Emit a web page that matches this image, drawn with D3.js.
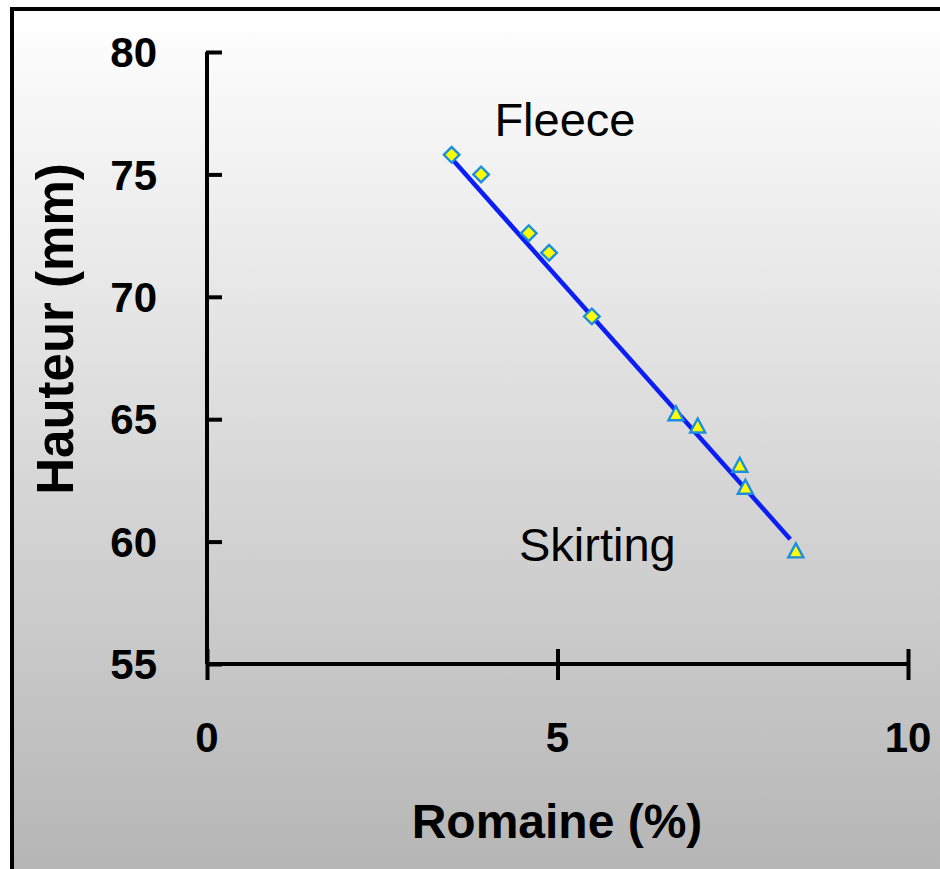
<!DOCTYPE html>
<html><head><meta charset="utf-8">
<script src="https://cdn.jsdelivr.net/npm/d3@7"></script>
<style>html,body{margin:0;padding:0;background:#fff;}svg{display:block;}</style>
</head><body>
<script>
const fleeceX = [3.49, 3.91, 4.59, 4.88, 5.49];
const fleeceY = [75.8, 75.0, 72.6, 71.8, 69.2];
const skirtingX = [6.69, 7.00, 7.60, 7.68, 8.40];
const skirtingY = [65.2, 64.7, 63.1, 62.2, 59.6];
const trendX = [3.41, 8.32];
const trendY = [75.9, 60.1];
const xTicks = [0, 5, 10];
const yTicks = [55, 60, 65, 70, 75, 80];
const labels = [{text: "Fleece", x: 4.1, y: 76.55}, {text: "Skirting", x: 4.45, y: 59.2}];

const W = 940, H = 869;
const svg = d3.select("body").append("svg").attr("width", W).attr("height", H);
const defs = svg.append("defs");
const grad = defs.append("linearGradient").attr("id", "bg").attr("x1", 0).attr("y1", 0).attr("x2", 0).attr("y2", 1);
grad.append("stop").attr("offset", "0%").attr("stop-color", "#ffffff");
grad.append("stop").attr("offset", "100%").attr("stop-color", "#b4b4b4");
svg.append("rect").attr("x", 12).attr("y", 9).attr("width", W + 10).attr("height", H + 10)
  .attr("fill", "url(#bg)").attr("stroke", "#000").attr("stroke-width", 4);

const x = d3.scaleLinear().domain([0, 10]).range([207, 908]);
const y = d3.scaleLinear().domain([55, 80]).range([664, 52]);

// y axis (ticks inside)
const yAx = svg.append("g").attr("transform", `translate(${x(0)},0)`)
  .call(d3.axisRight(y).tickValues(yTicks).tickSize(15).tickFormat(""));
yAx.select(".domain").attr("d", `M0,${y(80)}V${y(55)}`);
yAx.selectAll("line,path").attr("stroke", "#000").attr("stroke-width", 4);
yAx.selectAll(".tick line").attr("x1", -1);
svg.append("g").selectAll("text").data(yTicks).join("text")
  .attr("x", 157).attr("y", d => y(d)).attr("dy", "0.36em")
  .attr("text-anchor", "end").attr("font-family", "Liberation Sans, Arial, sans-serif")
  .attr("font-weight", "bold").attr("font-size", 42).text(d => d);

// x axis (cross ticks)
const xAx = svg.append("g").attr("transform", `translate(0,${y(55)})`)
  .call(d3.axisBottom(x).tickValues(xTicks).tickSize(16).tickFormat(""));
xAx.select(".domain").attr("d", `M${x(0)},0H${x(10)}`);
xAx.selectAll("line,path").attr("stroke", "#000").attr("stroke-width", 4);
xAx.selectAll(".tick line").attr("y1", -15);
svg.append("g").selectAll("text").data(xTicks).join("text")
  .attr("x", d => x(d)).attr("y", 752)
  .attr("text-anchor", "middle").attr("font-family", "Liberation Sans, Arial, sans-serif")
  .attr("font-weight", "bold").attr("font-size", 42).text(d => d);

// axis titles
svg.append("text").attr("x", 557).attr("y", 838).attr("text-anchor", "middle")
  .attr("font-family", "Liberation Sans, Arial, sans-serif").attr("font-weight", "bold")
  .attr("font-size", 48).text("Romaine (%)");
svg.append("text").attr("transform", "translate(73,329) rotate(-90)").attr("text-anchor", "middle")
  .attr("font-family", "Liberation Sans, Arial, sans-serif").attr("font-weight", "bold")
  .attr("font-size", 51).text("Hauteur (mm)");

// trend line
const trend = trendX.map((v, i) => [v, trendY[i]]);
svg.append("path").datum(trend)
  .attr("d", d3.line().x(d => x(d[0])).y(d => y(d[1])))
  .attr("stroke", "#0a1ef5").attr("stroke-width", 4.5).attr("fill", "none");

// markers
const fleece = fleeceX.map((v, i) => [v, fleeceY[i]]);
const skirting = skirtingX.map((v, i) => [v, skirtingY[i]]);
svg.append("g").selectAll("path").data(fleece).join("path")
  .attr("transform", d => `translate(${x(d[0])},${y(d[1])}) rotate(45)`)
  .attr("d", "M-5.5,-5.5H5.5V5.5H-5.5Z")
  .attr("fill", "#ffff00").attr("stroke", "#1a8ee0").attr("stroke-width", 2.4);
svg.append("g").selectAll("path").data(skirting).join("path")
  .attr("transform", d => `translate(${x(d[0])},${y(d[1])})`)
  .attr("d", "M0,-8L7.5,6H-7.5Z")
  .attr("fill", "#ffff00").attr("stroke", "#1a8ee0").attr("stroke-width", 2.4).attr("stroke-linejoin", "miter");

// labels
svg.append("g").selectAll("text").data(labels).join("text")
  .attr("x", d => x(d.x)).attr("y", d => y(d.y))
  .attr("font-family", "Liberation Sans, Arial, sans-serif").attr("font-size", 47)
  .attr("fill", "#000").text(d => d.text);
</script>
</body></html>
